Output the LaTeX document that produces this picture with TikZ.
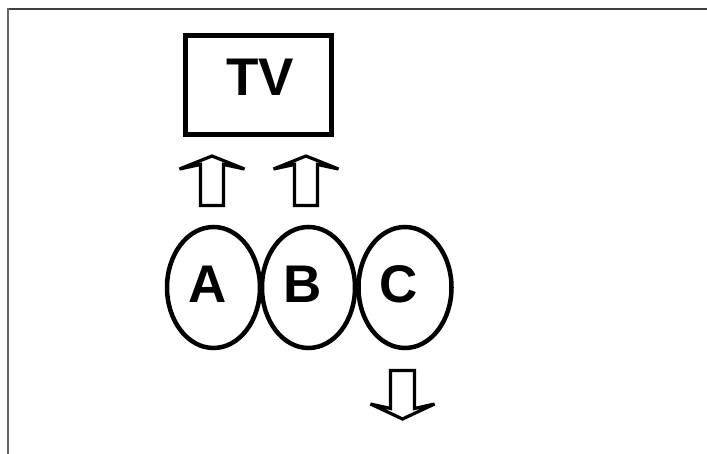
\documentclass[tikz,border=0pt]{standalone}
\usepackage{fontspec}
\setmainfont{Liberation Sans}
\usetikzlibrary{shapes.geometric}
\tikzset{
  oval/.style={ellipse, draw, line width=4.5pt, minimum width=93pt, minimum height=121pt, inner sep=0pt},
  tvbox/.style={draw, line width=5.5pt, minimum width=146pt, minimum height=99pt, inner sep=0pt},
  lettr/.style={inner sep=0pt, font=\fontsize{53}{53}\selectfont\bfseries},
  blockarrow/.style={draw, line width=3.2pt, fill=white, line join=miter, miter limit=3},
  uparr/.pic={\draw[blockarrow] (-11.5,49.5) -- (-11.5,8.5) -- (-32.5,13) -- (0,0) -- (32.5,13) -- (11.5,8.5) -- (11.5,49.5) -- cycle;},
  downarr/.pic={\draw[blockarrow] (-12,-48.5) -- (-12,-10.5) -- (-32,-15) -- (0,0) -- (32,-15) -- (12,-10.5) -- (12,-48.5) -- cycle;}
}
\begin{document}
\begin{tikzpicture}[x=1pt,y=-1pt]
\useasboundingbox[fill=white] (0,0) rectangle (707,454);
% frame
\draw[line width=2pt, black!75] (7,9.5) -- (707,9.5);
\draw[line width=2.5pt, black!60] (8,8.5) -- (8,454);
% TV
\node[tvbox] (tv) at (258.5,85) {};
\node[lettr] (tvtext) at (260,77) {TV};
% ellipses
\node[oval] (A) at (213.5,287.5) {};
\node[oval] (B) at (308.5,287.5) {};
\node[oval] (C) at (405,287.5) {};
\node[lettr] (la) at ([shift={(-5.5,-3.5)}]A.center) {A};
\node[lettr] (lb) at ([shift={(-6,-3.5)}]B.center) {B};
\node[lettr] (lc) at ([shift={(-6.5,-3.5)}]C.center) {C};
% arrows
\pic (arrA) at (212,156) {uparr};
\pic (arrB) at (306,156) {uparr};
\pic (arrC) at (402.5,419) {downarr};
\end{tikzpicture}
\end{document}
